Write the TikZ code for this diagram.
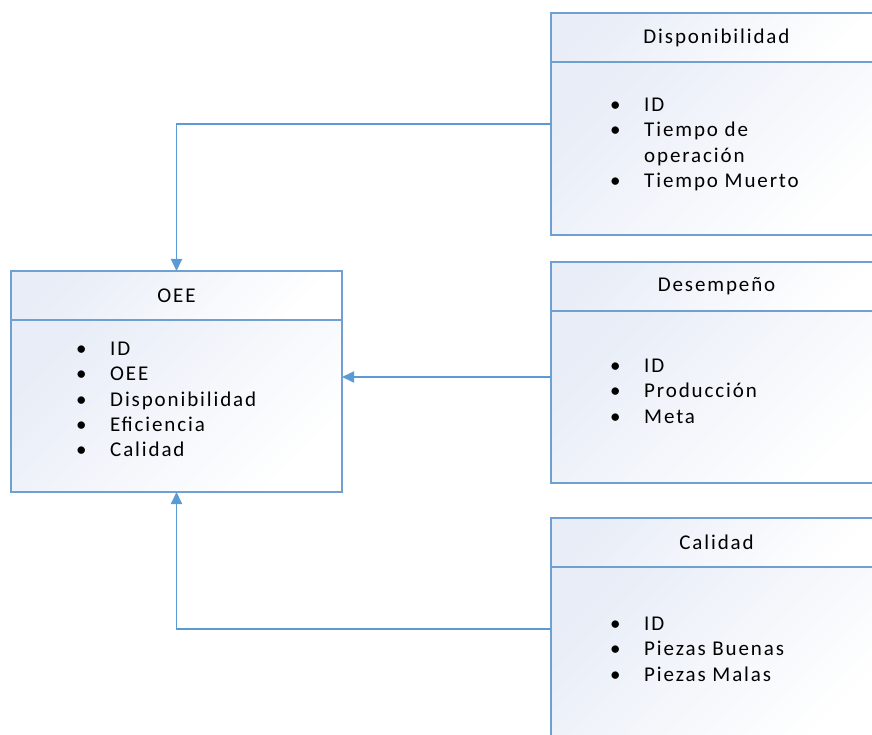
\documentclass[tikz,border=0pt]{standalone}
\usepackage{fontspec}
\setmainfont{Carlito}[LetterSpace=9]
\usepackage{xcolor}
\usetikzlibrary{arrows.meta}
\usetikzlibrary{positioning}

\definecolor{oeeblue}{RGB}{91,155,213}
\definecolor{oeeedge}{RGB}{112,160,210}
\definecolor{oeeshade}{RGB}{232,237,247}
\newcommand{\itm}[1]{\strut\makebox[34pt][l]{\textbullet}#1}

\begin{document}
\begin{tikzpicture}[x=1pt,y=-1pt,
    font=\fontsize{21}{25.3}\selectfont,
    head/.style={draw=oeeedge, line width=1.3pt, top color=oeeshade, bottom color=white,
        shading angle=45, minimum width=331pt, minimum height=49pt, inner sep=0pt, outer sep=0pt},
    body/.style={head, minimum height=173pt},
    items/.style={align=left, inner sep=0pt},
    link/.style={draw=oeeblue, line width=1.8pt, -{Triangle[length=12pt,width=11pt]}}]
    \useasboundingbox (0,0) rectangle (872,735);

    \node[head, anchor=north west] (oeeh) at (11,271) {OEE};
    \node[body, below=0pt of oeeh, minimum height=172pt] (oeeb) {};
    \node[items, below right=17.5pt and 65pt of oeeb.north west] (oeelist)
        {\itm{ID}\\\itm{OEE}\\\itm{Disponibilidad}\\\itm{Eficiencia}\\\itm{Calidad}};

    \node[head, anchor=north west] (disph) at (551,13) {Disponibilidad};
    \node[body, below=0pt of disph] (dispb) {};
    \node[items, below right=31.5pt and 59pt of dispb.north west] (displist)
        {\itm{ID}\\\itm{Tiempo de}\\\hspace*{34pt}operación\\\itm{Tiempo Muerto}};

    \node[head, anchor=north west] (desh) at (551,262) {Desempeño};
    \node[body, below=0pt of desh, minimum height=172pt] (desb) {};
    \node[items, below right=43.5pt and 59pt of desb.north west] (deslist)
        {\itm{ID}\\\itm{Producción}\\\itm{Meta}};

    \node[head, anchor=north west] (calh) at (551,518) {Calidad};
    \node[body, below=0pt of calh] (calb) {};
    \node[items, below right=45.5pt and 59pt of calb.north west] (callist)
        {\itm{ID}\\\itm{Piezas Buenas}\\\itm{Piezas Malas}};

    \coordinate[above=24.5pt of dispb.west] (dispout);
    \coordinate[above=20pt of desb.west] (desout);
    \coordinate[above=24.5pt of calb.west] (calout);
    \draw[link] (dispout) -| (oeeh.north);
    \draw[link] (desout) -- (desout -| oeeb.east);
    \draw[link] (calout) -| (oeeb.south);
\end{tikzpicture}
\end{document}
